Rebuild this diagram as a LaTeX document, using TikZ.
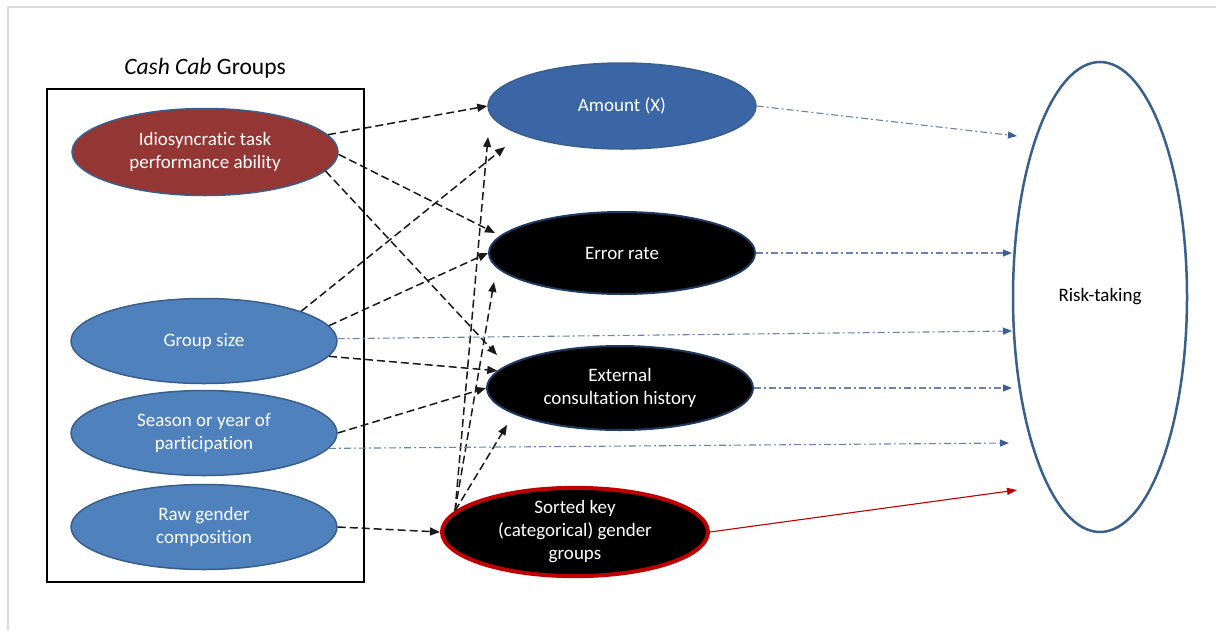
\documentclass[tikz,border=0pt]{standalone}
\usepackage{fontspec}
\setmainfont{Carlito}[Ligatures={NoCommon}]
\usetikzlibrary{shapes.geometric,arrows.meta}

\definecolor{bubblue}{HTML}{4F81BD}
\definecolor{bubedge}{HTML}{3A5F8B}
\definecolor{amountblue}{HTML}{3B66A6}
\definecolor{bubred}{HTML}{943634}
\definecolor{linkblue}{HTML}{6C82AA}
\definecolor{tipblue}{HTML}{3E5F95}
\definecolor{keyred}{HTML}{C00000}
\definecolor{navyedge}{HTML}{1F3A60}
\definecolor{framegray}{HTML}{D9D9D9}

\begin{document}
\begin{tikzpicture}[x=1pt,y=-1pt,
  bubble/.style={ellipse, inner sep=0pt, text=white, align=center,
    font=\fontsize{19}{23}\selectfont, line width=1.5pt},
  leftbub/.style={bubble, fill=bubblue, draw=bubedge,
    minimum width=266pt, minimum height=85pt},
  redbub/.style={bubble, fill=bubred, draw=bubedge,
    minimum width=266pt, minimum height=87pt},
  darkbub/.style={bubble, fill=black, draw=navyedge, line width=2pt,
    minimum width=266pt, minimum height=82pt},
  keybub/.style={bubble, fill=black, draw=keyred, line width=4pt,
    minimum width=266pt, minimum height=86pt},
  dasharrow/.style={draw=black!90, line width=1.5pt,
    dash pattern=on 8pt off 4pt, -{Triangle[length=10pt,width=8pt]}},
  dotlink/.style={draw=linkblue, line width=1.1pt,
    dash pattern=on 7pt off 3pt on 2pt off 3pt,
    -{Triangle[length=9pt,width=7pt,color=tipblue]}},
  redlink/.style={draw=keyred, line width=1.1pt,
    -{Triangle[length=10pt,width=7pt]}}
]
\useasboundingbox (0,0) rectangle (1216,630);

% light page frame
\draw[framegray, line width=2pt] (8,630) -- (8,7) -- (1216,7);

% grouping box and its title
\node (title) at (205,68) {\fontsize{23.5}{27}\selectfont\textit{Cash Cab} Groups};
\node (groupbox) [draw, line width=2.5pt, inner sep=0pt,
  minimum width=317pt, minimum height=493pt] at (205.5,335.5) {};

% predictors
\node[redbub]  (idio)   at (205,152) {Idiosyncratic task\\performance ability};
\node[leftbub] (gsize)  at (204,341) {Group size};
\node[leftbub] (season) at (204,433) {Season or year of\\participation};
\node[leftbub] (raw)    at (204,527) {Raw gender\\composition};

% mediators
\node[bubble, fill=amountblue, draw=bubedge, minimum width=268pt,
  minimum height=86pt] (amount) at (622,106) {Amount (X)};
\node[darkbub] (error)    at (622,253) {Error rate};
\node[darkbub, minimum height=84pt] (external) at (620,388)
  {External\\consultation history};
\node[keybub]  (sorted)   at (575,532) {Sorted key\\(categorical) gender\\groups};

% outcome
\node[ellipse, draw=bubedge, line width=2.5pt, fill=white, inner sep=0pt,
  minimum width=174pt, minimum height=470pt,
  font=\fontsize{19}{23}\selectfont] (risk) at (1100,297) {Risk-taking};

% free arrow ends
\coordinate (tipB) at (495,233);
\coordinate (tipC) at (497,355);
\coordinate (tipD) at (505,147);
\coordinate (tipK) at (488,137);
\coordinate (tipL) at (494,282);
\coordinate (tipM) at (507,425);
\coordinate (rA) at (1017,136);
\coordinate (rB) at (1012,253);
\coordinate (rC) at (1012,331);
\coordinate (rD) at (1012,388);
\coordinate (rE) at (1009,443);
\coordinate (rF) at (1017,490);

% dashed paths into the mediators
\draw[dasharrow] (idio.8)     -- (amount.west);
\draw[dasharrow] (idio.-1)    -- (tipB);
\draw[dasharrow] (idio.-9)    -- (tipC);
\draw[dasharrow] (gsize.17)   -- (tipD);
\draw[dasharrow] (gsize.7)    -- (error.west);
\draw[dasharrow] (gsize.-7)   -- (external.172);
\draw[dasharrow] (season.east) -- (external.west);
\draw[dasharrow] (raw.east)   -- (sorted.west);
\draw[dasharrow] (sorted.170) -- (tipK);
\draw[dasharrow] (sorted.170) -- (tipL);
\draw[dasharrow] (sorted.170) -- (tipM);

% paths into risk-taking
\draw[dotlink] (amount.east)   -- (rA);
\draw[dotlink] (error.east)    -- (rB);
\draw[dotlink] (gsize.1)       -- (rC);
\draw[dotlink] (external.east) -- (rD);
\draw[dotlink] (season.-7)     -- (rE);
\draw[redlink] (sorted.east)   -- (rF);
\end{tikzpicture}
\end{document}
